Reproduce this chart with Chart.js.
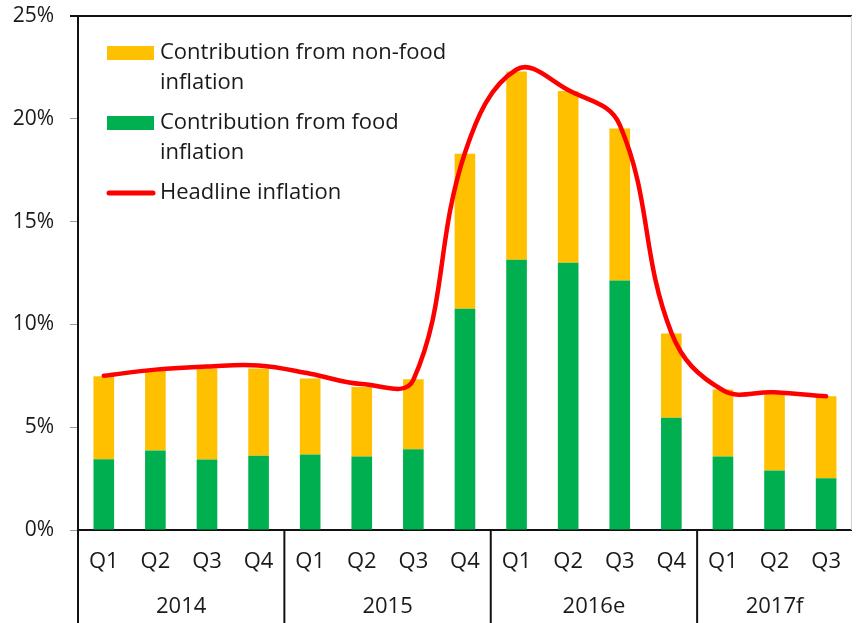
<!DOCTYPE html>
<html>
<head>
<meta charset="utf-8">
<script src="https://cdn.jsdelivr.net/npm/chart.js@4"></script>
<style>
  html, body { margin: 0; padding: 0; background: #fff; }
  #chart { display: block; }
</style>
</head>
<body>
<canvas id="chart" width="860" height="623"></canvas>
<script>
const quarters = ['Q1', 'Q2', 'Q3', 'Q4', 'Q1', 'Q2', 'Q3', 'Q4', 'Q1', 'Q2', 'Q3', 'Q4', 'Q1', 'Q2', 'Q3'];
const years = ['2014', '2015', '2016e', '2017f'];
const quartersPerYear = [4, 4, 4, 3];

const food = [3.44, 3.87, 3.43, 3.61, 3.67, 3.58, 3.93, 10.76, 13.14, 13.0, 12.13, 5.46, 3.58, 2.89, 2.52];
const nonFood = [4.04, 3.87, 4.42, 4.24, 3.70, 3.38, 3.40, 7.54, 9.16, 8.35, 7.40, 4.10, 3.25, 3.71, 3.98];
const headline = [7.5, 7.8, 7.95, 8.0, 7.6, 7.1, 7.3, 18.35, 22.4, 21.4, 19.7, 9.6, 6.8, 6.7, 6.5];

const yTicks = [0, 5, 10, 15, 20, 25];

const ORANGE = '#ffc000';
const GREEN = '#00b050';
const RED = '#ff0000';
const TEXT = '#1a1a1a';
const FONT = '"Open Sans", "Noto Sans", sans-serif';
const FONT_SIZE = 22;

// legend is drawn by hand because the labels wrap over two lines
const legendItems = [
  { lines: ['Contribution from non-food', 'inflation'], color: ORANGE, kind: 'box' },
  { lines: ['Contribution from food', 'inflation'], color: GREEN, kind: 'box' },
  { lines: ['Headline inflation'], color: RED, kind: 'line' },
];

const framePlugin = {
  id: 'frame',
  afterDraw(chart) {
    const { ctx, chartArea, scales } = chart;
    const x = scales.x;
    const bottom = chart.height;
    ctx.save();

    // top border + light right border
    ctx.strokeStyle = '#111';
    ctx.lineWidth = 2;
    ctx.beginPath();
    ctx.moveTo(chartArea.left - 8, chartArea.top);
    ctx.lineTo(chartArea.right, chartArea.top);
    ctx.stroke();
    ctx.strokeStyle = '#d0d0d0';
    ctx.lineWidth = 1;
    ctx.beginPath();
    ctx.moveTo(chartArea.right - 0.5, chartArea.top);
    ctx.lineTo(chartArea.right - 0.5, chartArea.bottom);
    ctx.stroke();

    // year separators and labels
    const step = x.getPixelForValue(1) - x.getPixelForValue(0);
    ctx.strokeStyle = '#111';
    ctx.lineWidth = 2;
    ctx.fillStyle = TEXT;
    ctx.font = FONT_SIZE + 'px ' + FONT;
    ctx.textAlign = 'center';
    ctx.textBaseline = 'middle';
    let idx = 0;
    years.forEach((yr, i) => {
      const n = quartersPerYear[i];
      const left = x.getPixelForValue(idx) - step / 2;
      const right = Math.min(x.getPixelForValue(idx + n - 1) + step / 2, chartArea.right);
      ctx.beginPath();
      ctx.moveTo(left, chartArea.bottom);
      ctx.lineTo(left, bottom);
      ctx.stroke();
      ctx.fillText(yr, (left + right) / 2, chartArea.bottom + 77);
      idx += n;
    });

    // legend
    const lx = chartArea.left + 29;
    let ly = chartArea.top + 37;
    ctx.textAlign = 'left';
    legendItems.forEach(item => {
      if (item.kind === 'box') {
        ctx.fillStyle = item.color;
        ctx.fillRect(lx, ly - 7, 47, 14);
      } else {
        ctx.strokeStyle = item.color;
        ctx.lineWidth = 5;
        ctx.lineCap = 'round';
        ctx.beginPath();
        ctx.moveTo(lx + 2, ly);
        ctx.lineTo(lx + 46, ly);
        ctx.stroke();
      }
      ctx.fillStyle = TEXT;
      item.lines.forEach((t, j) => ctx.fillText(t, lx + 53, ly + j * 30));
      ly += 70;
    });
    ctx.restore();
  }
};

new Chart(document.getElementById('chart'), {
  data: {
    labels: quarters,
    datasets: [
      { type: 'line', label: 'Headline inflation', data: headline, borderColor: RED, borderWidth: 4.5,
        pointRadius: 0, tension: 0.4, borderCapStyle: 'round', stack: 'headline', order: 0 },
      { type: 'bar', label: 'Contribution from food inflation', data: food, backgroundColor: GREEN,
        barPercentage: 0.4, categoryPercentage: 1, stack: 'bars', order: 1 },
      { type: 'bar', label: 'Contribution from non-food inflation', data: nonFood, backgroundColor: ORANGE,
        barPercentage: 0.4, categoryPercentage: 1, stack: 'bars', order: 1 },
    ],
  },
  options: {
    responsive: false,
    animation: false,
    layout: { padding: { top: 16, right: 1, left: 0, bottom: 0 } },
    plugins: { legend: { display: false }, tooltip: { enabled: false } },
    scales: {
      x: {
        stacked: true,
        grid: { display: false, drawTicks: false },
        border: { display: true, color: '#111', width: 2 },
        ticks: { color: TEXT, font: { family: FONT, size: FONT_SIZE }, padding: 19, maxRotation: 0, autoSkip: false },
        afterFit(scale) { scale.height = 93; },
      },
      y: {
        stacked: true,
        min: 0,
        max: 25,
        afterBuildTicks(scale) { scale.ticks = yTicks.map(v => ({ value: v })); },
        grid: { drawOnChartArea: false, tickLength: 8, color: '#999' },
        border: { display: true, color: '#111', width: 2 },
        ticks: { color: TEXT, font: { family: FONT, size: 21 }, padding: 16, callback: v => v + '%' },
        afterFit(scale) {
          scale.width = 78;
          scale.paddingTop = 0;
          scale.paddingBottom = 0;
        },
      },
    },
  },
  plugins: [framePlugin],
});
</script>
</body>
</html>
